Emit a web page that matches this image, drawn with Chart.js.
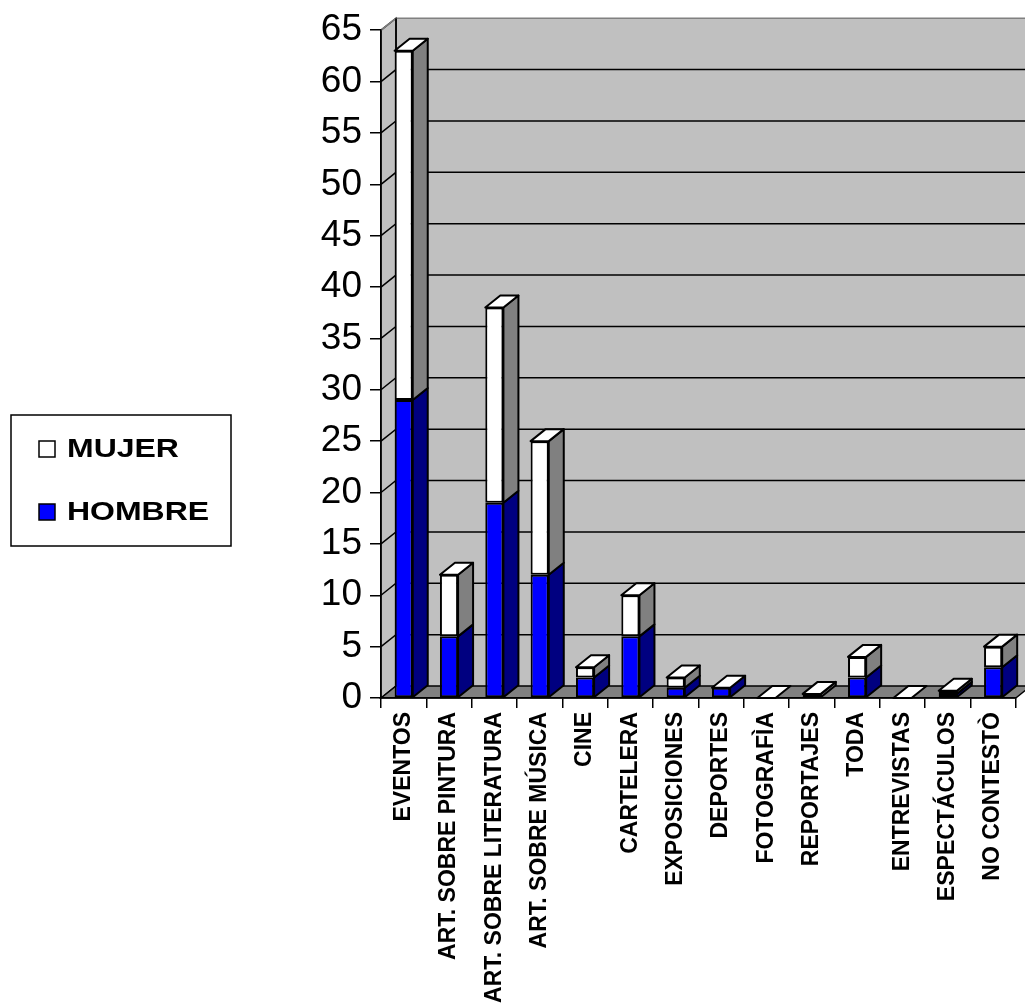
<!DOCTYPE html>
<html>
<head>
<meta charset="utf-8">
<script src="https://cdn.jsdelivr.net/npm/chart.js@4.4.0/dist/chart.umd.min.js"></script>
<style>
  html, body { margin: 0; padding: 0; background: #ffffff; }
  #wrap { width: 1025px; height: 1003px; position: relative; }
</style>
</head>
<body>
<div id="wrap"><canvas id="barChart3d"></canvas></div>
<script>
var categories = ['EVENTOS', 'ART. SOBRE PINTURA', 'ART. SOBRE LITERATURA', 'ART. SOBRE MÚSICA', 'CINE',
  'CARTELERA', 'EXPOSICIONES', 'DEPORTES', 'FOTOGRAFÌA', 'REPORTAJES', 'TODA', 'ENTREVISTAS',
  'ESPECTÁCULOS', 'NO CONTESTÒ'];
var hombre = [29, 6, 19, 12, 2, 6, 1, 1, 0, 0, 2, 0, 0.4, 3];
var mujer = [34, 6, 19, 13, 1, 4, 1, 0, 0, 0.4, 2, 0, 0.3, 2];
var yTicks = [0, 5, 10, 15, 20, 25, 30, 35, 40, 45, 50, 55, 60, 65];

// depth of the fake 3d box
var dx = 15, dy = -12;
var sideColors = ['#000080', '#808080'];

function poly(ctx, pts, fill) {
  ctx.beginPath();
  ctx.moveTo(pts[0][0], pts[0][1]);
  for (var i = 1; i < pts.length; i++) ctx.lineTo(pts[i][0], pts[i][1]);
  ctx.closePath();
  if (fill) { ctx.fillStyle = fill; ctx.fill(); }
  ctx.stroke();
}

var wallsPlugin = {
  id: 'walls',
  beforeDraw: function(chart) {
    var ctx = chart.ctx, a = chart.chartArea, y = chart.scales.y;
    var W = chart.width;
    ctx.save();
    ctx.lineWidth = 1.5;
    ctx.strokeStyle = '#000000';
    // back wall
    ctx.fillStyle = '#c0c0c0';
    ctx.fillRect(a.left + dx, a.top + dy, W, a.bottom - a.top);
    // left wall
    poly(ctx, [[a.left, a.top], [a.left + dx, a.top + dy], [a.left + dx, a.bottom + dy], [a.left, a.bottom]], '#c0c0c0');
    // grid lines on the walls
    yTicks.forEach(function(v) {
      if (v === 0) return;
      var py = y.getPixelForValue(v);
      ctx.strokeStyle = v === yTicks[yTicks.length - 1] ? '#808080' : '#000000';
      ctx.beginPath();
      ctx.moveTo(a.left, py);
      ctx.lineTo(a.left + dx, py + dy);
      ctx.lineTo(W, py + dy);
      ctx.stroke();
    });
    ctx.strokeStyle = '#000000';
    ctx.beginPath();
    ctx.moveTo(a.left + dx, a.top + dy);
    ctx.lineTo(a.left + dx, a.bottom + dy);
    ctx.stroke();
    // floor
    poly(ctx, [[a.left, a.bottom], [a.left + dx, a.bottom + dy], [a.right + dx, a.bottom + dy], [a.right, a.bottom]], '#808080');
    ctx.restore();
  },
  afterDatasetsDraw: function(chart) {
    var ctx = chart.ctx;
    var m0 = chart.getDatasetMeta(0).data, m1 = chart.getDatasetMeta(1).data;
    ctx.save();
    ctx.lineWidth = 2;
    ctx.lineJoin = 'round';
    ctx.strokeStyle = '#000000';
    for (var i = 0; i < categories.length; i++) {
      var els = [m0[i], m1[i]];
      var vals = [hombre[i], mujer[i]];
      var top = els[1].y;
      var l = els[0].x - els[0].width / 2, r = els[0].x + els[0].width / 2;
      for (var d = 0; d < 2; d++) {
        if (!vals[d]) continue;
        var e = els[d];
        poly(ctx, [[r, e.y], [r + dx, e.y + dy], [r + dx, e.base + dy], [r, e.base]], sideColors[d]);
      }
      // top face
      poly(ctx, [[l, top], [l + dx, top + dy], [r + dx, top + dy], [r, top]], '#ffffff');
    }
    ctx.restore();
  }
};

var legendPlugin = {
  id: 'boxLegend',
  afterDraw: function(chart) {
    var ctx = chart.ctx;
    ctx.save();
    ctx.lineWidth = 1.5;
    ctx.strokeStyle = '#000000';
    ctx.strokeRect(11, 415, 220, 131);
    var items = [chart.data.datasets[1], chart.data.datasets[0]];
    var rows = [449, 512];
    ctx.textBaseline = 'middle';
    items.forEach(function(ds, k) {
      ctx.fillStyle = ds.backgroundColor;
      ctx.fillRect(39, rows[k] - 8, 16, 16);
      ctx.strokeRect(39, rows[k] - 8, 16, 16);
      // text is a bit wide in the original, stretch it sideways
      ctx.save();
      ctx.translate(67, rows[k] + 1);
      ctx.scale(1.23, 1);
      ctx.font = 'bold 26px "Liberation Sans", Arial, sans-serif';
      ctx.fillStyle = '#000000';
      ctx.fillText(ds.label, 0, 0);
      ctx.restore();
    });
    ctx.restore();
  }
};

var ctx = document.getElementById('barChart3d').getContext('2d');
var chart = new Chart(ctx, {
  type: 'bar',
  data: {
    labels: categories,
    datasets: [{
      label: 'HOMBRE',
      data: hombre,
      backgroundColor: '#0000ff',
      borderColor: '#000000',
      borderWidth: 2,
      borderSkipped: false
    }, {
      label: 'MUJER',
      data: mujer,
      backgroundColor: '#ffffff',
      borderColor: '#000000',
      borderWidth: 2,
      borderSkipped: false
    }]
  },
  options: {
    responsive: true,
    maintainAspectRatio: false,
    animation: false,
    layout: { padding: { top: 30, right: 8, left: 0, bottom: 0 } },
    datasets: { bar: { barPercentage: 0.4, categoryPercentage: 1 } },
    plugins: { legend: { display: false }, tooltip: { enabled: false } },
    scales: {
      x: {
        stacked: true,
        afterFit: function(s) { s.height = 305; },
        grid: { drawOnChartArea: false, offset: true, tickLength: 10, color: '#000000', lineWidth: 1.5 },
        border: { color: '#000000', width: 1.5 },
        ticks: {
          autoSkip: false, minRotation: 90, maxRotation: 90, padding: 4, color: '#000000',
          font: { family: '"Liberation Sans", Arial, sans-serif', size: 23, weight: 'bold' }
        }
      },
      y: {
        stacked: true,
        min: 0,
        max: 65,
        afterFit: function(s) { s.width = 381; },
        afterBuildTicks: function(s) { s.ticks = yTicks.map(function(v) { return { value: v }; }); },
        grid: { drawOnChartArea: false, tickLength: 11, color: '#000000', lineWidth: 1.5 },
        border: { color: '#000000', width: 1.5 },
        ticks: {
          padding: 8, color: '#000000',
          font: { family: '"Liberation Sans", Arial, sans-serif', size: 37 }
        }
      }
    }
  },
  plugins: [wallsPlugin, legendPlugin]
});
</script>
</body>
</html>
